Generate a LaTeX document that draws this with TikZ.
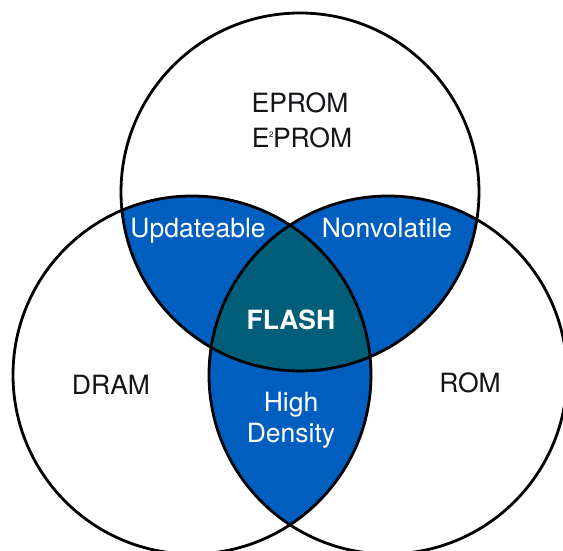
\documentclass[tikz,border=0pt]{standalone}
\usepackage{fontspec}
\setmainfont{TeX Gyre Heros}
\definecolor{vblue}{RGB}{0,94,190}
\definecolor{vteal}{RGB}{0,94,120}
\definecolor{vtext}{RGB}{20,20,25}
\begin{document}
\begin{tikzpicture}[x=1pt,y=-1pt,
  lbl/.style={font=\fontsize{26.5}{31}\selectfont, text=vtext, inner sep=0pt, anchor=base},
  wlbl/.style={lbl, text=white},
  ring/.style={draw=black, line width=2.8pt}]
\useasboundingbox (0,0) rectangle (563,551);
\fill[white] (0,0) rectangle (563,551);
\clip (0,0) rectangle (563,551);
\def\rad{179}
\coordinate (cT) at (300,192);
\coordinate (cL) at (192,375);
\coordinate (cR) at (388,375);
% pairwise overlaps
\begin{scope}
  \clip (cT) circle[radius=\rad];
  \fill[vblue] (cL) circle[radius=\rad];
  \fill[vblue] (cR) circle[radius=\rad];
\end{scope}
\begin{scope}
  \clip (cL) circle[radius=\rad];
  \fill[vblue] (cR) circle[radius=\rad];
\end{scope}
% triple overlap
\begin{scope}
  \clip (cT) circle[radius=\rad];
  \clip (cL) circle[radius=\rad];
  \fill[vteal] (cR) circle[radius=\rad];
\end{scope}
\draw[ring] (cT) circle[radius=\rad];
\draw[ring] (cL) circle[radius=\rad];
\draw[ring] (cR) circle[radius=\rad];
% labels
\node[lbl] (eprom) at (300,113) {EPROM};
\node[lbl] (e2prom) at (302,147) {E\kern-0.5pt\raisebox{0.7ex}{\fontsize{8}{8}\selectfont 2}\kern-0.5pt PROM};
\node[wlbl] (upd) at (198,237) {Updateable};
\node[wlbl] (nonv) at (387,237) {Nonvolatile};
\node[wlbl, font=\fontsize{26.5}{31}\selectfont\bfseries] (flash) at (291,329) {FLASH};
\node[wlbl] (high) at (291,411) {High};
\node[wlbl] (dens) at (291,442) {Density};
\node[lbl] (dram) at (111,394) {DRAM};
\node[lbl] (rom) at (470,392) {ROM};
\end{tikzpicture}
\end{document}
